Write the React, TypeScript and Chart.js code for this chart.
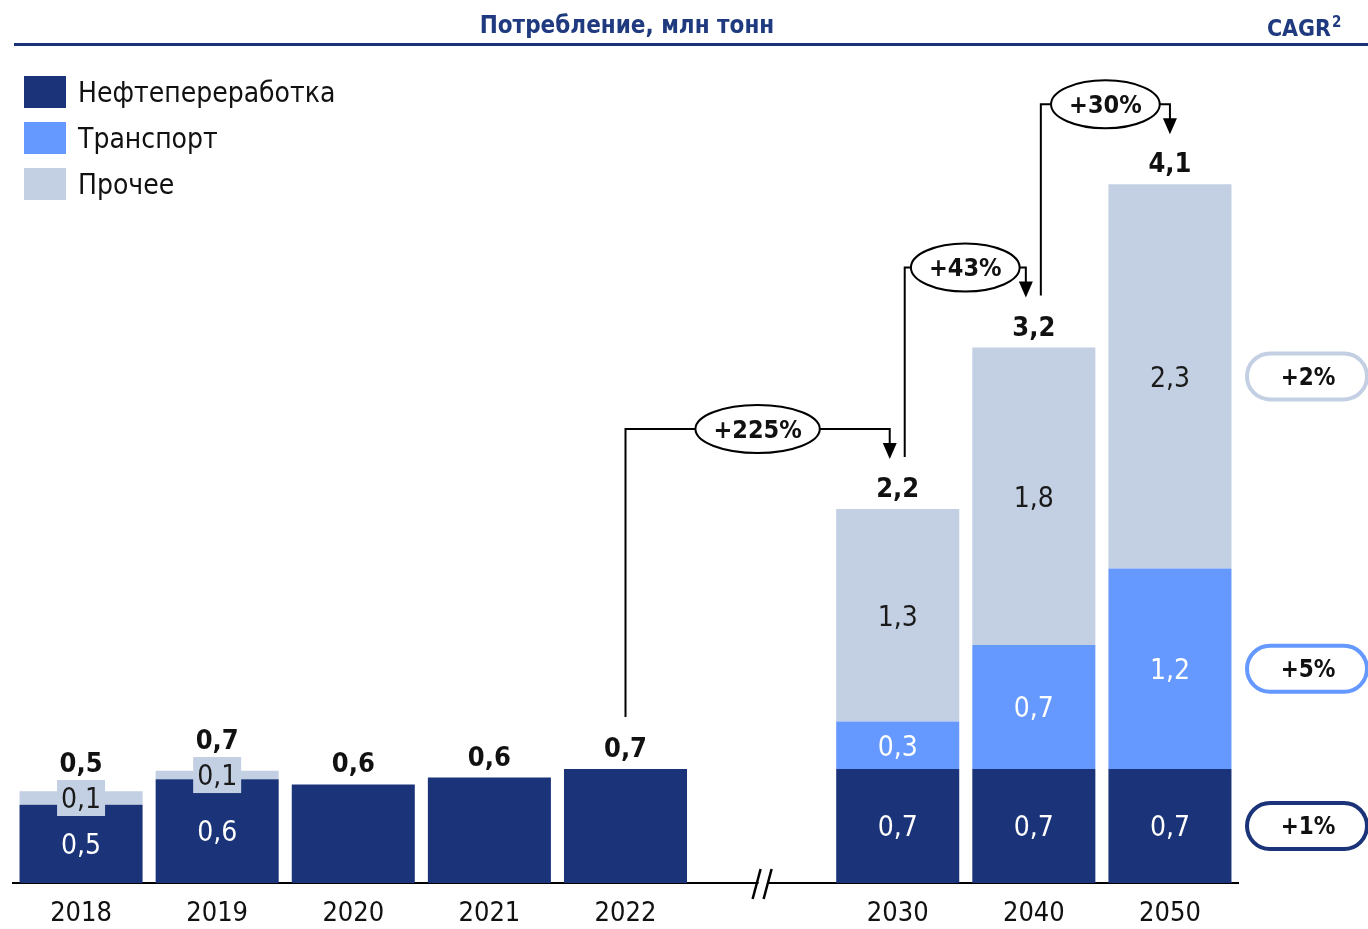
import React, { useEffect, useRef } from "react";
import { Chart, registerables } from "chart.js";

Chart.register(...registerables);

const categories = ["2018", "2019", "2020", "2021", "2022", "", "2030", "2040", "2050"];
const refiningValues = [0.46, 0.61, 0.58, 0.62, 0.67, null, 0.67, 0.67, 0.67];
const transportValues = [0, 0, 0, 0, 0, null, 0.28, 0.73, 1.18];
const otherValues = [0.08, 0.05, 0, 0, 0, null, 1.25, 1.75, 2.26];
const refiningLabels = ["0,5", "0,6", "", "", "", "", "0,7", "0,7", "0,7"];
const transportLabels = ["", "", "", "", "", "", "0,3", "0,7", "1,2"];
const otherLabels = ["0,1", "0,1", "", "", "", "", "1,3", "1,8", "2,3"];
const totalLabels = ["0,5", "0,7", "0,6", "0,6", "0,7", "", "2,2", "3,2", "4,1"];
const seriesNames = ["Нефтепереработка", "Транспорт", "Прочее"];
const cagrLabels = ["+1%", "+5%", "+2%"];
const growthFrom = [4, 6, 7];
const growthTo = [6, 7, 8];
const growthLabels = ["+225%", "+43%", "+30%"];
const breakIndex = 5;
const chartTitle = "Потребление, млн тонн";
const cagrTitle = "CAGR";
const cagrNote = "2";

const colors = ["#1B3479", "#6699FF", "#C3CFE2"];
const textColors = ["#FFFFFF", "#FFFFFF", "#1A1A1A"];
const FONT = '"DejaVu Sans Condensed", "DejaVu Sans", sans-serif';

const annotations = {
  id: "annotations",
  afterDatasetsDraw(chart: any) {
    const ctx = chart.ctx;
    const metas = [0, 1, 2].map((i) => chart.getDatasetMeta(i));
    const segLabels = [refiningLabels, transportLabels, otherLabels];
    const n = categories.length;
    const boxTops = new Array(n).fill(Infinity);
    const xOf = (j: number) => metas[0].data[j].x;
    const topOf = (j: number) => metas[2].data[j].y;
    ctx.save();
    ctx.textAlign = "center";
    ctx.textBaseline = "middle";

    // segment labels
    for (let d = 0; d < 3; d++) {
      metas[d].data.forEach((bar: any, j: number) => {
        const txt = segLabels[d][j];
        if (!txt) return;
        const cy = (bar.y + bar.base) / 2;
        const h = Math.abs(bar.base - bar.y);
        ctx.font = `28px ${FONT}`;
        if (h < 30) {
          ctx.fillStyle = colors[d];
          ctx.fillRect(bar.x - 24, cy - 18, 48, 36);
          boxTops[j] = Math.min(boxTops[j], cy - 18);
          ctx.fillStyle = "#1A1A1A";
        } else {
          ctx.fillStyle = textColors[d];
        }
        ctx.fillText(txt, bar.x, cy + 3);
      });
    }

    // totals
    ctx.font = `bold 27px ${FONT}`;
    ctx.fillStyle = "#111111";
    for (let j = 0; j < n; j++) {
      if (!totalLabels[j]) continue;
      const y = Math.min(topOf(j) - 19, boxTops[j] - 15);
      ctx.fillText(totalLabels[j], xOf(j), y);
    }

    // growth arrows
    for (let k = 0; k < growthFrom.length; k++) {
      const s = growthFrom[k];
      const t = growthTo[k];
      const sx = xOf(s) + (growthTo.includes(s) ? 7 : 0);
      const sy = topOf(s) - 52;
      const tx = xOf(t) - (growthFrom.includes(t) ? 8 : 0);
      const tipY = topOf(t) - 50;
      const hy = topOf(t) - 80;
      ctx.strokeStyle = "#000";
      ctx.lineWidth = 2;
      ctx.beginPath();
      ctx.moveTo(sx, sy);
      ctx.lineTo(sx, hy);
      ctx.lineTo(tx, hy);
      ctx.lineTo(tx, tipY - 14);
      ctx.stroke();
      ctx.fillStyle = "#000";
      ctx.beginPath();
      ctx.moveTo(tx - 7, tipY - 16);
      ctx.lineTo(tx + 7, tipY - 16);
      ctx.lineTo(tx, tipY);
      ctx.closePath();
      ctx.fill();
      ctx.font = `bold 25px ${FONT}`;
      const w = ctx.measureText(growthLabels[k]).width;
      const cx = (sx + tx) / 2;
      const rx = w / 2 + 18;
      ctx.beginPath();
      ctx.ellipse(cx, hy, rx, 24, 0, 0, Math.PI * 2);
      ctx.fillStyle = "#fff";
      ctx.fill();
      ctx.lineWidth = 2;
      ctx.stroke();
      ctx.fillStyle = "#111";
      ctx.fillText(growthLabels[k], cx, hy + 2);
    }

    // axis break
    const bx = chart.scales.x.getPixelForValue(breakIndex);
    const by = chart.chartArea.bottom;
    ctx.fillStyle = "#fff";
    ctx.beginPath();
    ctx.moveTo(bx - 4, by + 4);
    ctx.lineTo(bx + 6, by + 4);
    ctx.lineTo(bx + 8, by - 4);
    ctx.lineTo(bx - 2, by - 4);
    ctx.closePath();
    ctx.fill();
    ctx.strokeStyle = "#000";
    ctx.lineWidth = 2.5;
    ctx.beginPath();
    ctx.moveTo(bx - 9, by + 16);
    ctx.lineTo(bx - 1, by - 14);
    ctx.moveTo(bx + 2, by + 16);
    ctx.lineTo(bx + 10, by - 14);
    ctx.stroke();

    // CAGR pills
    for (let d = 0; d < 3; d++) {
      const bar: any = metas[d].data[n - 1];
      const cy = (bar.y + bar.base) / 2;
      const x0 = 1247, w = 120, h = 46, r = 23;
      const y0 = cy - h / 2;
      ctx.beginPath();
      ctx.moveTo(x0 + r, y0);
      ctx.lineTo(x0 + w - r, y0);
      ctx.arc(x0 + w - r, y0 + r, r, -Math.PI / 2, Math.PI / 2);
      ctx.lineTo(x0 + r, y0 + h);
      ctx.arc(x0 + r, y0 + r, r, Math.PI / 2, (3 * Math.PI) / 2);
      ctx.closePath();
      ctx.fillStyle = "#fff";
      ctx.fill();
      ctx.strokeStyle = colors[d];
      ctx.lineWidth = 4;
      ctx.stroke();
      ctx.font = `bold 24px ${FONT}`;
      ctx.fillStyle = "#111";
      ctx.fillText(cagrLabels[d], x0 + w / 2 + 1, cy + 2);
    }

    // legend
    ctx.textAlign = "left";
    ctx.font = `28px ${FONT}`;
    for (let d = 0; d < 3; d++) {
      const y = 76 + d * 46;
      ctx.fillStyle = colors[d];
      ctx.fillRect(24, y, 42, 32);
      ctx.fillStyle = "#111";
      ctx.fillText(chart.data.datasets[d].label, 78, y + 19);
    }

    // title and header line
    ctx.fillStyle = "#1F3A7F";
    ctx.font = `bold 24px ${FONT}`;
    ctx.textAlign = "center";
    ctx.fillText(chartTitle, 627, 27);
    ctx.textAlign = "right";
    ctx.font = `bold 23px ${FONT}`;
    ctx.fillText(cagrTitle, 1331, 30);
    ctx.textAlign = "left";
    ctx.font = `bold 15px ${FONT}`;
    ctx.fillText(cagrNote, 1332, 23);
    ctx.fillStyle = "#1B3479";
    ctx.fillRect(14, 43, 1354, 3);

    ctx.restore();
  },
};

export default function App() {
  const canvasRef = useRef<HTMLCanvasElement | null>(null);

  useEffect(() => {
    if (!canvasRef.current) return;
    const chart = new Chart(canvasRef.current, {
      type: "bar",
      data: {
        labels: categories,
        datasets: [
          { label: seriesNames[0], data: refiningValues, backgroundColor: colors[0] },
          { label: seriesNames[1], data: transportValues, backgroundColor: colors[1] },
          { label: seriesNames[2], data: otherValues, backgroundColor: colors[2] },
        ].map((ds) => ({ ...ds, barPercentage: 0.904, categoryPercentage: 1, borderWidth: 0 })),
      },
      options: {
        responsive: false,
        animation: false,
        layout: { padding: { left: 13, right: 130, top: 50, bottom: 0 } },
        plugins: {
          legend: { display: false },
          tooltip: { enabled: false },
          title: { display: false },
        },
        scales: {
          x: {
            stacked: true,
            grid: { display: false, drawTicks: false },
            border: { display: true, color: "#000", width: 2 },
            ticks: {
              color: "#111",
              font: { size: 27, family: FONT },
              padding: 15,
              maxRotation: 0,
              autoSkip: false,
            },
            afterFit: (scale: any) => {
              scale.height = 46;
            },
          },
          y: { stacked: true, display: false, min: 0, max: 4.9 },
        },
      },
      plugins: [annotations],
    } as any);
    return () => chart.destroy();
  }, []);

  return (
    <div style={{ position: "absolute", left: 0, top: 0, width: 1368, height: 929, background: "#fff" }}>
      <canvas ref={canvasRef} width={1368} height={929} style={{ display: "block" }} />
    </div>
  );
}
